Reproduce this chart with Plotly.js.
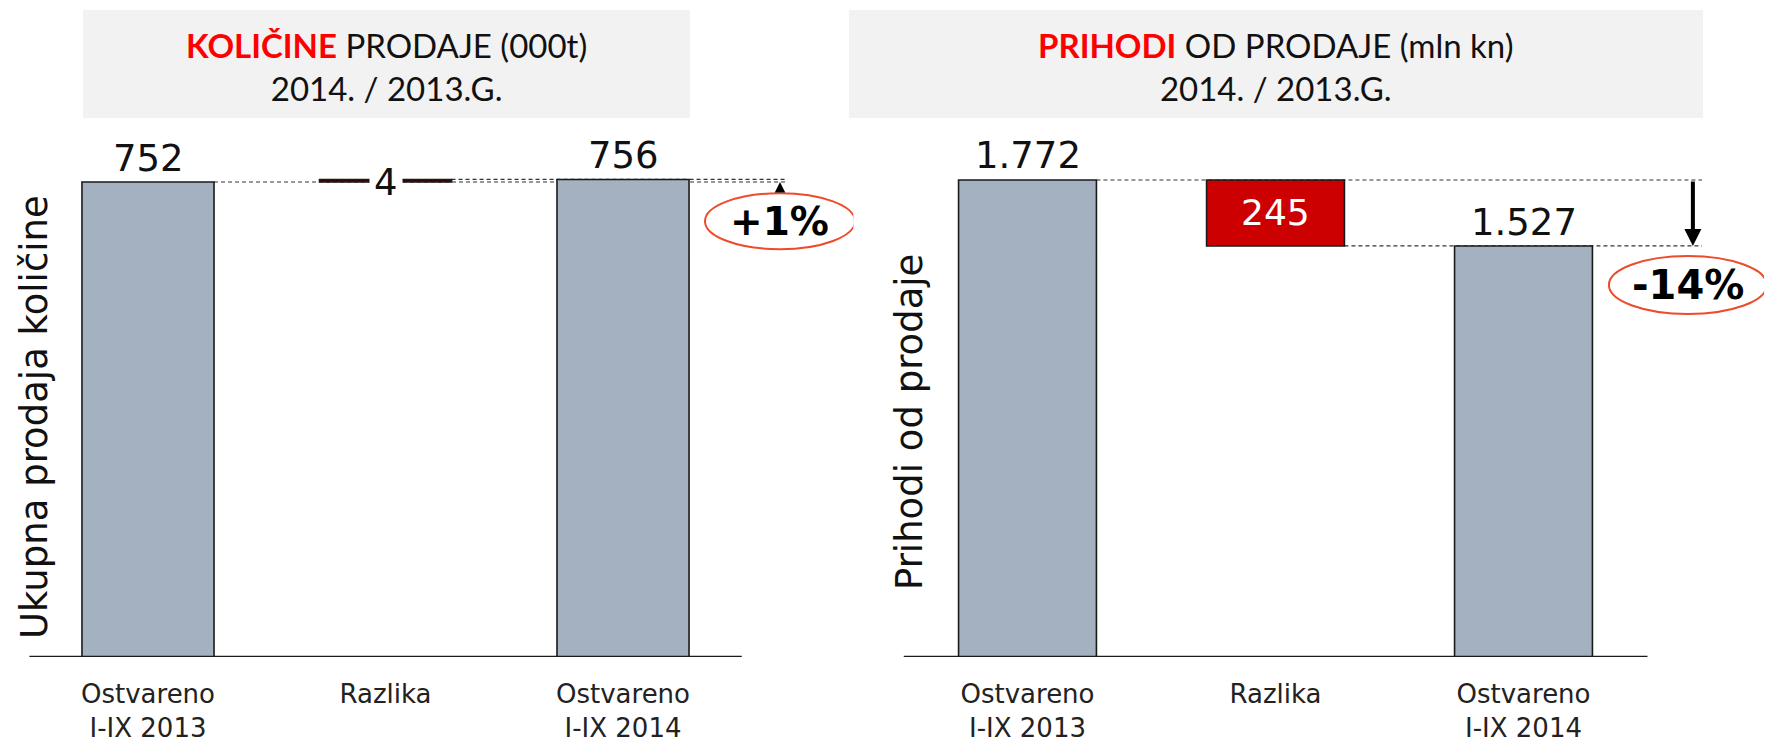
<!DOCTYPE html>
<html>
<head>
<meta charset="utf-8">
<script src="https://cdn.plot.ly/plotly-3.0.1.min.js"></script>
<style>html,body{margin:0;padding:0;background:#fff;}#chart{width:1766px;height:744px;}</style>
</head>
<body>
<div id="chart"></div>
<script>
// ---- data ----
const categories = ['Ostvareno<br>I-IX 2013', 'Razlika', 'Ostvareno<br>I-IX 2014'];
const kolicineStart = 752;      // 000t, I-IX 2013
const kolicineDiff = 4;         // razlika
const kolicineEnd = 756;        // 000t, I-IX 2014
const prihodiStart = 1772;      // mln kn, I-IX 2013
const prihodiDiff = -245;       // razlika
const prihodiEnd = 1527;        // mln kn, I-IX 2014
const leftTitle = ['KOLIČINE', ' PRODAJE (000t)', '2014. / 2013.G.'];
const rightTitle = ['PRIHODI', ' OD PRODAJE (mln kn)', '2014. / 2013.G.'];
const leftYTitle = 'Ukupna prodaja količine';
const rightYTitle = 'Prihodi od prodaje';

// ---- helpers ----
function fmt(v) { return Math.abs(v).toString().replace(/\B(?=(\d{3})+(?!\d))/g, '.'); }
function pct(a, b) { const p = Math.round((b - a) / a * 100); return (p > 0 ? '+' : '') + p + '%'; }

const W = 1766, H = 744;
const GREY = '#a3b1c0', RED = '#cc0000', OUT = '#1a1a1a';
const NUMFONT = {family: 'DejaVu Sans, Verdana, sans-serif', size: 37, color: '#111'};
const TITLEFONT = {family: 'Lato, Liberation Sans, sans-serif', size: 33, color: '#111'};
const HALF = 0.278; // half bar width in category units (bargap 0.444)
const XMAX = 2.97;  // axis range extends past the last category to hold the % callouts

const leftVals = [kolicineStart, Math.abs(kolicineDiff), kolicineEnd];
const leftBase = [0, Math.min(kolicineStart, kolicineEnd), 0];
const rightVals = [prihodiStart, Math.abs(prihodiDiff), prihodiEnd];
const rightBase = [0, Math.min(prihodiStart, prihodiEnd), 0];

const traces = [
  {type: 'bar', x: categories, y: leftVals, base: leftBase, xaxis: 'x', yaxis: 'y',
   marker: {color: [GREY, '#3a0505', GREY], line: {color: OUT, width: 1.6}}, hoverinfo: 'skip', showlegend: false},
  {type: 'bar', x: categories, y: rightVals, base: rightBase, xaxis: 'x2', yaxis: 'y2',
   marker: {color: [GREY, RED, GREY], line: {color: OUT, width: 1.6}}, hoverinfo: 'skip', showlegend: false}
];

const ydom = [(H - 657) / H, (H - 130) / H];
const axisCommon = {type: 'category', range: [-0.5, XMAX], showgrid: false, zeroline: false, showline: false,
  ticks: '', ticklabelstandoff: 19,
  tickfont: {family: 'DejaVu Sans, Verdana, sans-serif', size: 26, color: '#222'}, fixedrange: true};

const dash = {color: '#333', width: 1.2, dash: '4px,3px'};
const shapes = [
  // title boxes
  {type: 'rect', xref: 'paper', yref: 'paper', x0: 83 / W, x1: 690 / W, y0: (H - 118) / H, y1: (H - 10) / H, fillcolor: '#f2f2f2', line: {width: 0}, layer: 'below'},
  {type: 'rect', xref: 'paper', yref: 'paper', x0: 849 / W, x1: 1703 / W, y0: (H - 118) / H, y1: (H - 10) / H, fillcolor: '#f2f2f2', line: {width: 0}, layer: 'below'},
  // baselines
  {type: 'line', xref: 'x', yref: 'y', x0: -0.5, x1: 2.5, y0: 0, y1: 0, line: {color: '#1a1a1a', width: 2.5}},
  {type: 'line', xref: 'x2', yref: 'y2', x0: -0.5, x1: 2.5, y0: 0, y1: 0, line: {color: '#1a1a1a', width: 2.5}},
  // left connectors
  {type: 'line', xref: 'x', yref: 'y', x0: 0 + HALF, x1: 2.69, y0: kolicineStart, y1: kolicineStart, line: dash, layer: 'below'},
  {type: 'line', xref: 'x', yref: 'y', x0: 1 + HALF, x1: 2.69, y0: kolicineEnd, y1: kolicineEnd, line: dash, layer: 'below'},
  // right connectors
  {type: 'line', xref: 'x2', yref: 'y2', x0: 0 + HALF, x1: 2.72, y0: prihodiStart, y1: prihodiStart, line: dash, layer: 'below'},
  {type: 'line', xref: 'x2', yref: 'y2', x0: 1 + HALF, x1: 2.72, y0: prihodiEnd, y1: prihodiEnd, line: dash, layer: 'below'},
  // ellipses
  {type: 'circle', xref: 'x', yref: 'y', xsizemode: 'pixel', ysizemode: 'pixel', xanchor: 2.661, yanchor: 690,
   x0: -75, x1: 75, y0: -28, y1: 28, line: {color: '#ee4b2b', width: 2}},
  {type: 'circle', xref: 'x2', yref: 'y2', xsizemode: 'pixel', ysizemode: 'pixel', xanchor: 2.663, yanchor: 1382,
   x0: -79, x1: 79, y0: -29, y1: 29, line: {color: '#ee4b2b', width: 2}}
];

const annotations = [
  // titles
  {xref: 'paper', yref: 'paper', x: 386 / W, y: (H - 66) / H, xanchor: 'center', yanchor: 'middle', showarrow: false, font: TITLEFONT,
   text: '<b><span style="color:#ff0000">' + leftTitle[0] + '</span></b>' + leftTitle[1] + '<br>' + leftTitle[2]},
  {xref: 'paper', yref: 'paper', x: 1276 / W, y: (H - 66) / H, xanchor: 'center', yanchor: 'middle', showarrow: false, font: TITLEFONT,
   text: '<b><span style="color:#ff0000">' + rightTitle[0] + '</span></b>' + rightTitle[1] + '<br>' + rightTitle[2]},
  // y titles
  {xref: 'paper', yref: 'paper', x: 34 / W, y: (H - 417) / H, textangle: -90, showarrow: false, xanchor: 'center', yanchor: 'middle',
   text: leftYTitle, font: {family: 'DejaVu Sans, Verdana, sans-serif', size: 37, color: '#111'}},
  {xref: 'paper', yref: 'paper', x: 910 / W, y: (H - 422) / H, textangle: -90, showarrow: false, xanchor: 'center', yanchor: 'middle',
   text: rightYTitle, font: {family: 'DejaVu Sans, Verdana, sans-serif', size: 37, color: '#111'}},
  // value labels left
  {xref: 'x', yref: 'y', x: 0, y: kolicineStart, yanchor: 'bottom', yshift: 0, showarrow: false, text: fmt(kolicineStart), font: NUMFONT},
  {xref: 'x', yref: 'y', x: 2, y: kolicineEnd, yanchor: 'bottom', yshift: 0, showarrow: false, text: fmt(kolicineEnd), font: NUMFONT},
  {xref: 'x', yref: 'y', x: 1, y: kolicineStart + kolicineDiff / 2, yanchor: 'middle', yshift: -2, showarrow: false,
   text: fmt(kolicineDiff), font: NUMFONT, bgcolor: '#ffffff', borderpad: 4},
  // value labels right
  {xref: 'x2', yref: 'y2', x: 0, y: prihodiStart, yanchor: 'bottom', yshift: 1, showarrow: false, text: fmt(prihodiStart), font: NUMFONT},
  {xref: 'x2', yref: 'y2', x: 2, y: prihodiEnd, yanchor: 'bottom', yshift: 0, showarrow: false, text: fmt(prihodiEnd), font: NUMFONT},
  {xref: 'x2', yref: 'y2', x: 1, y: prihodiStart + prihodiDiff / 2, yanchor: 'middle', showarrow: false,
   text: fmt(prihodiDiff), font: {family: 'DejaVu Sans, Verdana, sans-serif', size: 36, color: '#ffffff'}},
  // arrows
  {xref: 'x', yref: 'y', x: 2.661, y: kolicineStart, ax: 0, ay: 10, showarrow: true, arrowhead: 2, arrowwidth: 1.5, arrowsize: 1.4, arrowcolor: '#000', text: ''},
  {xref: 'x2', yref: 'y2', x: 2.683, y: prihodiEnd, axref: 'x2', ayref: 'y2', ax: 2.683, ay: prihodiStart, showarrow: true,
   arrowhead: 2, arrowwidth: 4, arrowsize: 0.85, arrowcolor: '#000', text: ''},
  // percentages
  {xref: 'x', yref: 'y', x: 2.661, y: 690, showarrow: false, text: '<b>' + pct(kolicineStart, kolicineEnd) + '</b>',
   font: {family: 'DejaVu Sans, Verdana, sans-serif', size: 39, color: '#000'}},
  {xref: 'x2', yref: 'y2', x: 2.663, y: 1382, showarrow: false, text: '<b>' + pct(prihodiStart, prihodiEnd) + '</b>',
   font: {family: 'DejaVu Sans, Verdana, sans-serif', size: 40, color: '#000'}}
];

const layout = {
  width: W, height: H, margin: {l: 0, r: 0, t: 0, b: 0}, paper_bgcolor: '#fff', plot_bgcolor: 'rgba(0,0,0,0)',
  bargap: 0.444, showlegend: false,
  xaxis: Object.assign({}, axisCommon, {domain: [29.25 / W, (29.25 + (XMAX + 0.5) * 237.5) / W], anchor: 'y'}),
  yaxis: {domain: ydom, range: [0, 527 / 0.63165], visible: false, fixedrange: true, anchor: 'x'},
  xaxis2: Object.assign({}, axisCommon, {domain: [903.5 / W, (903.5 + (XMAX + 0.5) * 248) / W], anchor: 'y2'}),
  yaxis2: {domain: ydom, range: [0, 527 / 0.26919], visible: false, fixedrange: true, anchor: 'x2'},
  shapes: shapes, annotations: annotations
};

Plotly.newPlot('chart', traces, layout, {staticPlot: true, displayModeBar: false});
</script>
</body>
</html>
